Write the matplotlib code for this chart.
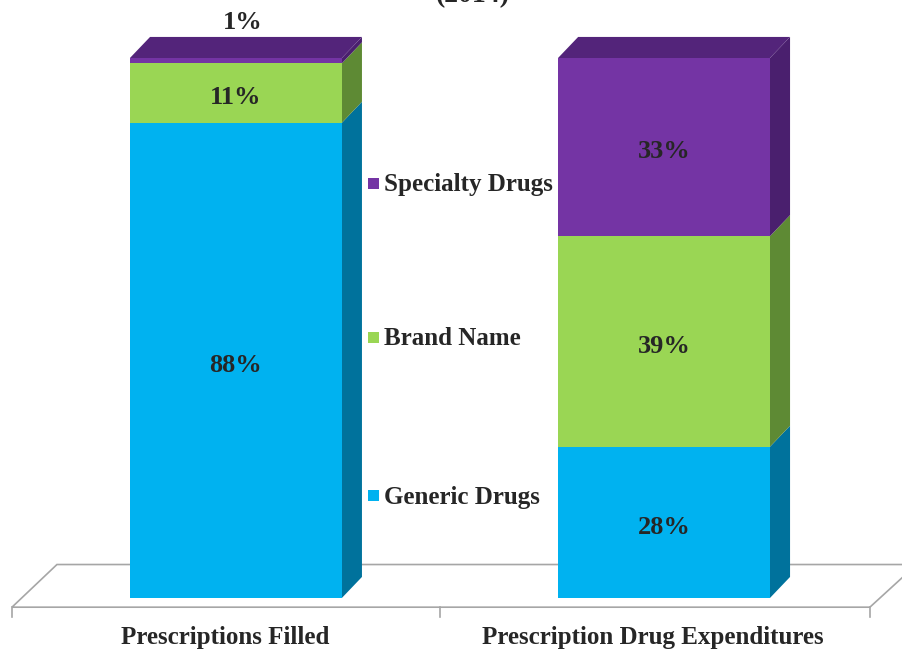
import matplotlib.pyplot as plt
from matplotlib.patches import Polygon, Rectangle
import numpy as np

# data
categories = ['Prescriptions Filled', 'Prescription Drug Expenditures']
series = ['Generic Drugs', 'Brand Name', 'Specialty Drugs']
generic = [88, 28]
brand = [11, 39]
specialty = [1, 33]
labels = [['88%', '28%'], ['11%', '39%'], ['1%', '33%']]

front = ['#00B2F0', '#9AD654', '#7434A4']
side = ['#00729C', '#5E8A34', '#4A1F6E']
top_col = ['#0090C4', '#7DB043', '#53247A']
txt = '#262626'
serif = 'Liberation Serif'
fs = 19

fig = plt.figure(figsize=(9.02, 6.52), dpi=100)
ax = fig.add_axes([0, 0, 1, 1])
ax.set_xlim(-0.551, 1.556)
ax.set_ylim(-10.0, 110.74)
ax.axis('off')

x = np.arange(len(categories))
w = 0.495
dx, dy = 0.047, 3.9

# floor
fl = [(-0.523, -1.7), (1.481, -1.7), (1.59, 6.2), (-0.418, 6.2)]
ax.add_patch(Polygon(fl, closed=True, facecolor='white', edgecolor='#A6A6A6', lw=1.2, zorder=1))
for t in [-0.523, 0.477, 1.481]:
    ax.plot([t, t], [-1.7, -3.6], color='#A6A6A6', lw=1.2, zorder=1)

stack = [generic, brand, specialty]
bottoms = np.zeros(len(categories))
for i, vals in enumerate(stack):
    vals = np.array(vals, dtype=float)
    ax.bar(x, vals, w, bottom=bottoms, color=front[i], edgecolor='none', zorder=3)
    for j in range(len(x)):
        r = x[j] + w / 2
        b0, b1 = bottoms[j], bottoms[j] + vals[j]
        ax.add_patch(Polygon([(r, b0), (r + dx, b0 + dy), (r + dx, b1 + dy), (r, b1)],
                             closed=True, facecolor=side[i], edgecolor='none', zorder=2))
        if i == len(stack) - 1:
            l = x[j] - w / 2
            ax.add_patch(Polygon([(l, b1), (r, b1), (r + dx, b1 + dy), (l + dx, b1 + dy)],
                                 closed=True, facecolor=top_col[i], edgecolor='none', zorder=4))
        if vals[j] >= 5:
            ax.text(x[j], b0 + vals[j] / 2 - 0.9, labels[i][j], ha='center', va='center',
                    fontsize=fs, fontweight='bold', family=serif, color=txt, zorder=5)
        else:
            ax.text(x[j] + 0.015, b1 + dy + 2.7, labels[i][j], ha='center', va='center',
                    fontsize=fs, fontweight='bold', family=serif, color=txt, zorder=5)
    bottoms += vals

# legend
leg_y = [19.0, 48.3, 76.8]
for i, name in enumerate(series):
    ax.add_patch(Rectangle((0.308, leg_y[i] - 1.05), 0.026, 2.1, facecolor=front[i],
                           edgecolor='none', zorder=5))
    ax.text(0.345, leg_y[i] - 0.3, name, ha='left', va='center', fontsize=fs - 1,
            fontweight='bold', family=serif, color=txt)

for j, c in enumerate(categories):
    ax.text(x[j] - 0.025, -7.4, c, ha='center', va='center', fontsize=fs - 1,
            fontweight='bold', family=serif, color=txt)

fig.text(0.524, 1.006, '(2014)', ha='center', va='center', fontsize=20,
         fontweight='bold', family=serif, color=txt)

fig.savefig('out.png', dpi=100)
